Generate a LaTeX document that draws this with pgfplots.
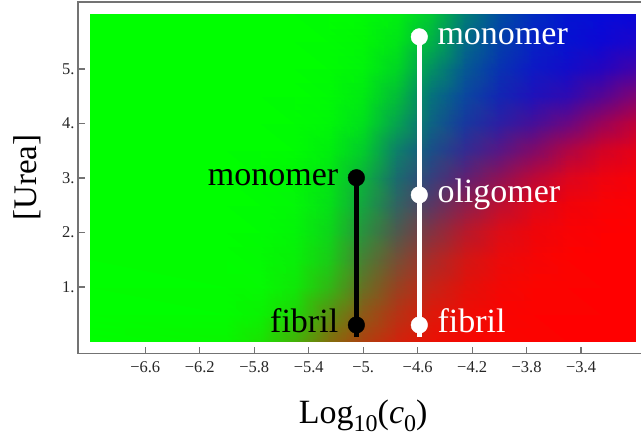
\documentclass[border=0pt]{standalone}
\usepackage{fontspec}
\setmainfont{Liberation Serif}
\usepackage{pgfplots}
\usepackage{pgfplotstable}
\pgfplotsset{compat=1.18}

\pgfplotstableread{
x y c
-7 0 rgb=0,1,0
-6 0 rgb=0.03,0.97,0
-5.75 0 rgb=0.10,0.89,0.01
-5.5 0 rgb=0.26,0.70,0.03
-5.25 0 rgb=0.50,0.44,0.05
-5 0 rgb=0.67,0.26,0.06
-4.75 0 rgb=0.81,0.14,0.05
-4.5 0 rgb=0.91,0.07,0.02
-4.25 0 rgb=0.96,0.03,0.01
-4 0 rgb=0.98,0.02,0
-3.75 0 rgb=0.99,0.01,0
-3.5 0 rgb=1,0,0
-3.25 0 rgb=1,0,0
-3 0 rgb=1,0,0
-7 0.5 rgb=0,1,0
-6 0.5 rgb=0.01,0.99,0
-5.75 0.5 rgb=0.04,0.95,0.01
-5.5 0.5 rgb=0.12,0.84,0.03
-5.25 0.5 rgb=0.35,0.57,0.07
-5 0.5 rgb=0.55,0.35,0.09
-4.75 0.5 rgb=0.71,0.20,0.08
-4.5 0.5 rgb=0.86,0.10,0.04
-4.25 0.5 rgb=0.93,0.05,0.02
-4 0.5 rgb=0.97,0.02,0.01
-3.75 0.5 rgb=0.99,0.01,0
-3.5 0.5 rgb=0.99,0.01,0
-3.25 0.5 rgb=1,0,0
-3 0.5 rgb=1,0,0
-7 1 rgb=0,1,0
-6 1 rgb=0.01,0.99,0
-5.75 1 rgb=0.02,0.98,0.01
-5.5 1 rgb=0.06,0.91,0.03
-5.25 1 rgb=0.19,0.72,0.08
-5 1 rgb=0.40,0.44,0.14
-4.75 1 rgb=0.59,0.26,0.13
-4.5 1 rgb=0.77,0.14,0.09
-4.25 1 rgb=0.88,0.07,0.04
-4 1 rgb=0.95,0.03,0.02
-3.75 1 rgb=0.98,0.02,0
-3.5 1 rgb=0.99,0.01,0
-3.25 1 rgb=1,0,0
-3 1 rgb=1,0,0
-7 1.5 rgb=0,1,0
-6 1.5 rgb=0,1,0
-5.75 1.5 rgb=0.01,0.98,0.01
-5.5 1.5 rgb=0.03,0.94,0.03
-5.25 1.5 rgb=0.10,0.80,0.09
-5 1.5 rgb=0.28,0.50,0.20
-4.75 1.5 rgb=0.46,0.31,0.21
-4.5 1.5 rgb=0.66,0.17,0.16
-4.25 1.5 rgb=0.82,0.09,0.08
-4 1.5 rgb=0.92,0.04,0.04
-3.75 1.5 rgb=0.96,0.02,0.02
-3.5 1.5 rgb=0.99,0.01,0
-3.25 1.5 rgb=1,0,0
-3 1.5 rgb=1,0,0
-7 2 rgb=0,1,0
-6 2 rgb=0,1,0
-5.75 2 rgb=0,0.99,0.01
-5.5 2 rgb=0.01,0.96,0.03
-5.25 2 rgb=0.05,0.84,0.10
-5 2 rgb=0.16,0.57,0.24
-4.75 2 rgb=0.31,0.35,0.30
-4.5 2 rgb=0.51,0.20,0.26
-4.25 2 rgb=0.71,0.10,0.17
-4 2 rgb=0.86,0.05,0.09
-3.75 2 rgb=0.93,0.02,0.04
-3.5 2 rgb=0.97,0.01,0.02
-3.25 2 rgb=0.99,0,0.01
-3 2 rgb=1,0,0
-7 2.5 rgb=0,1,0
-6 2.5 rgb=0,1,0
-5.75 2.5 rgb=0,0.99,0.01
-5.5 2.5 rgb=0.01,0.97,0.03
-5.25 2.5 rgb=0.02,0.88,0.09
-5 2.5 rgb=0.08,0.64,0.25
-4.75 2.5 rgb=0.19,0.39,0.38
-4.5 2.5 rgb=0.35,0.22,0.39
-4.25 2.5 rgb=0.55,0.12,0.30
-4 2.5 rgb=0.74,0.06,0.19
-3.75 2.5 rgb=0.87,0.03,0.10
-3.5 2.5 rgb=0.94,0.01,0.04
-3.25 2.5 rgb=0.97,0.01,0.02
-3 2.5 rgb=0.99,0,0.01
-7 3 rgb=0,1,0
-6 3 rgb=0,1,0
-5.75 3 rgb=0,0.99,0.01
-5.5 3 rgb=0,0.97,0.02
-5.25 3 rgb=0.01,0.90,0.08
-5 3 rgb=0.04,0.70,0.23
-4.75 3 rgb=0.10,0.42,0.43
-4.5 3 rgb=0.21,0.25,0.49
-4.25 3 rgb=0.37,0.13,0.45
-4 3 rgb=0.55,0.07,0.34
-3.75 3 rgb=0.73,0.03,0.22
-3.5 3 rgb=0.86,0.02,0.12
-3.25 3 rgb=0.93,0.01,0.06
-3 3 rgb=0.97,0,0.03
-7 3.5 rgb=0,1,0
-6 3.5 rgb=0,1,0
-5.75 3.5 rgb=0,1,0
-5.5 3.5 rgb=0,0.99,0.01
-5.25 3.5 rgb=0,0.94,0.05
-5 3.5 rgb=0.01,0.80,0.17
-4.75 3.5 rgb=0.05,0.50,0.41
-4.5 3.5 rgb=0.10,0.31,0.53
-4.25 3.5 rgb=0.20,0.17,0.57
-4 3.5 rgb=0.34,0.09,0.52
-3.75 3.5 rgb=0.50,0.04,0.41
-3.5 3.5 rgb=0.68,0.02,0.27
-3.25 3.5 rgb=0.82,0.01,0.15
-3 3.5 rgb=0.90,0,0.09
-7 4 rgb=0,1,0
-6 4 rgb=0,1,0
-5.75 4 rgb=0,1,0
-5.5 4 rgb=0,0.99,0.01
-5.25 4 rgb=0,0.97,0.03
-5 4 rgb=0,0.88,0.11
-4.75 4 rgb=0.02,0.64,0.31
-4.5 4 rgb=0.05,0.39,0.51
-4.25 4 rgb=0.09,0.22,0.62
-4 4 rgb=0.17,0.12,0.64
-3.75 4 rgb=0.27,0.06,0.60
-3.5 4 rgb=0.41,0.03,0.51
-3.25 4 rgb=0.60,0.01,0.35
-3 4 rgb=0.75,0,0.22
-7 4.5 rgb=0,1,0
-6 4.5 rgb=0,1,0
-5.75 4.5 rgb=0,1,0
-5.5 4.5 rgb=0,1,0
-5.25 4.5 rgb=0,0.98,0.02
-5 4.5 rgb=0,0.92,0.07
-4.75 4.5 rgb=0.01,0.74,0.22
-4.5 4.5 rgb=0.02,0.45,0.48
-4.25 4.5 rgb=0.04,0.28,0.62
-4 4.5 rgb=0.07,0.15,0.70
-3.75 4.5 rgb=0.12,0.07,0.73
-3.5 4.5 rgb=0.18,0.04,0.70
-3.25 4.5 rgb=0.33,0.02,0.58
-3 4.5 rgb=0.50,0.01,0.45
-7 5 rgb=0,1,0
-6 5 rgb=0,1,0
-5.75 5 rgb=0,1,0
-5.5 5 rgb=0,1,0
-5.25 5 rgb=0,0.99,0.01
-5 5 rgb=0,0.96,0.04
-4.75 5 rgb=0,0.84,0.14
-4.5 5 rgb=0.01,0.57,0.38
-4.25 5 rgb=0.02,0.35,0.57
-4 5 rgb=0.03,0.20,0.69
-3.75 5 rgb=0.05,0.10,0.77
-3.5 5 rgb=0.07,0.05,0.79
-3.25 5 rgb=0.14,0.02,0.75
-3 5 rgb=0.25,0.01,0.67
-7 5.5 rgb=0,1,0
-6 5.5 rgb=0,1,0
-5.75 5.5 rgb=0,1,0
-5.5 5.5 rgb=0,1,0
-5.25 5.5 rgb=0,0.99,0.01
-5 5.5 rgb=0,0.97,0.02
-4.75 5.5 rgb=0,0.90,0.09
-4.5 5.5 rgb=0,0.70,0.27
-4.25 5.5 rgb=0.01,0.42,0.52
-4 5.5 rgb=0.01,0.25,0.66
-3.75 5.5 rgb=0.02,0.13,0.77
-3.5 5.5 rgb=0.02,0.07,0.82
-3.25 5.5 rgb=0.05,0.03,0.83
-3 5.5 rgb=0.10,0.02,0.80
-7 6 rgb=0,1,0
-6 6 rgb=0,1,0
-5.75 6 rgb=0,1,0
-5.5 6 rgb=0,1,0
-5.25 6 rgb=0,1,0
-5 6 rgb=0,0.98,0.02
-4.75 6 rgb=0,0.94,0.06
-4.5 6 rgb=0,0.78,0.20
-4.25 6 rgb=0,0.49,0.46
-4 6 rgb=0,0.30,0.63
-3.75 6 rgb=0,0.17,0.75
-3.5 6 rgb=0.01,0.08,0.82
-3.25 6 rgb=0.02,0.04,0.85
-3 6 rgb=0.03,0.02,0.85
}\densitytable

\begin{document}
\begin{tikzpicture}
\begin{axis}[
  at={(0,0)}, anchor=south west,
  scale only axis, width=570.4bp, height=351.5bp,
  xmin=-7.094, xmax=-2.906, ymin=-0.22, ymax=6.229,
  tick pos=left, tick align=inside,
  major tick length=7bp,
  axis line style={black!55, line width=1.3bp},
  tick style={black!55, line width=1.3bp},
  xtick={-6.6,-6.2,-5.8,-5.4,-5,-4.6,-4.2,-3.8,-3.4},
  xticklabels={−6.6,−6.2,−5.8,−5.4,−5.,−4.6,−4.2,−3.8,−3.4},
  ytick={1,2,3,4,5},
  yticklabels={1.,2.,3.,4.,5.},
  tick label style={font=\fontsize{16.5bp}{18bp}\selectfont, text=black!85},
  xticklabel style={yshift=-5bp},
  xlabel={Log\raisebox{-8.4bp}{\fontsize{24bp}{24bp}\selectfont 10}(\textit{c}\raisebox{-8.4bp}{\fontsize{24bp}{24bp}\selectfont 0})},
  ylabel={[Urea]},
  every axis x label/.style={at={(axis description cs:0.5,-0.1986)}, anchor=base, font=\fontsize{34bp}{36bp}\selectfont},
  every axis y label/.style={at={(axis description cs:-0.0894,0.5)}, rotate=90, anchor=center, font=\fontsize{33bp}{36bp}\selectfont},
]
\addplot[surf, shader=interp, mesh/color input=explicit, point meta=explicit symbolic,
  mesh/cols=14, mesh/ordering=x varies] table[x=x, y=y, meta=c] {\densitytable};

\addplot[black, line width=4.5bp] coordinates {(-5.05,0.08) (-5.05,3.005)};
\addplot[only marks, mark=*, mark size=8.3bp, mark options={draw=black, fill=black}] coordinates {(-5.05,3.005) (-5.05,0.303)};
\addplot[white, line width=4.5bp] coordinates {(-4.588,0.08) (-4.588,5.59)};
\addplot[only marks, mark=*, mark size=8.3bp, mark options={draw=white, fill=white}] coordinates {(-4.588,5.59) (-4.588,2.69) (-4.588,0.303)};

\node[anchor=base west, inner sep=0, text=white, font=\fontsize{34bp}{36bp}\selectfont, xshift=18bp, yshift=-7.6bp] at (axis cs:-4.588,5.59) {monomer};
\node[anchor=base west, inner sep=0, text=white, font=\fontsize{34bp}{36bp}\selectfont, xshift=18bp, yshift=-7.6bp] at (axis cs:-4.588,2.69) {oligomer};
\node[anchor=base west, inner sep=0, text=white, font=\fontsize{34bp}{36bp}\selectfont, xshift=18bp, yshift=-7.6bp] at (axis cs:-4.588,0.303) {fibril};
\node[anchor=base east, inner sep=0, text=black, font=\fontsize{34bp}{36bp}\selectfont, xshift=-18bp, yshift=-7.6bp] at (axis cs:-5.05,3.005) {monomer};
\node[anchor=base east, inner sep=0, text=black, font=\fontsize{34bp}{36bp}\selectfont, xshift=-18bp, yshift=-7.6bp] at (axis cs:-5.05,0.303) {fibril};
\end{axis}
\pgfresetboundingbox
\useasboundingbox (-78bp,-83.5bp) rectangle (563bp,353.5bp);
\end{tikzpicture}
\end{document}
